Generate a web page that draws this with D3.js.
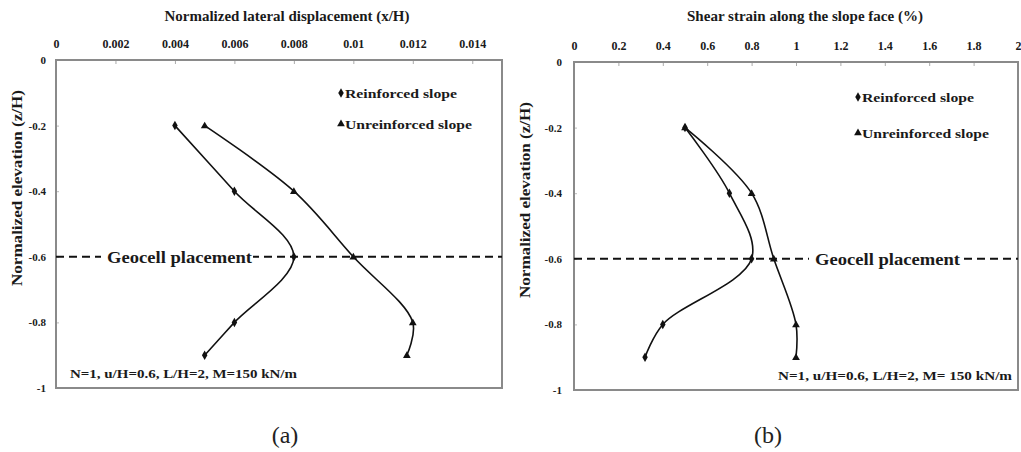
<!DOCTYPE html>
<html><head><meta charset="utf-8">
<script src="https://cdn.jsdelivr.net/npm/d3@7"></script>
<style>
html,body{margin:0;padding:0;background:#fff;}
svg text{font-family:"Liberation Serif","Times New Roman",serif;}
</style></head>
<body>
<svg id="c" width="1021" height="452"></svg>
<script>
// ---- data ----
const elevations = [-0.2, -0.4, -0.6, -0.8, -0.9];
const dispReinforced = [0.004, 0.006, 0.008, 0.006, 0.005];
const dispUnreinforced = [0.005, 0.008, 0.010, 0.012, 0.0118];
const strainReinforced = [0.5, 0.7, 0.8, 0.4, 0.32];
const strainUnreinforced = [0.5, 0.8, 0.9, 1.0, 1.0];
const xTicksA = [0, 0.002, 0.004, 0.006, 0.008, 0.01, 0.012, 0.014];
const xTickLabelsA = ["0", "0.002", "0.004", "0.006", "0.008", "0.01", "0.012", "0.014"];
const xTicksB = [0, 0.2, 0.4, 0.6, 0.8, 1, 1.2, 1.4, 1.6, 1.8, 2];
const xTickLabelsB = ["0", "0.2", "0.4", "0.6", "0.8", "1", "1.2", "1.4", "1.6", "1.8", "2"];
const yTicks = [0, -0.2, -0.4, -0.6, -0.8, -1];
const yTickLabels = ["0", "-0.2", "-0.4", "-0.6", "-0.8", "-1"];
const geocellLevel = -0.6;
const seriesNames = ["Reinforced slope", "Unreinforced slope"];
const paramText = "N=1, u/H=0.6, L/H=2, M=150 kN/m";
const paramTextB = "N=1, u/H=0.6, L/H=2, M= 150 kN/m";

const svg = d3.select("#c");

function panel(cfg) {
  const g = svg.append("g");
  const x = d3.scaleLinear().domain(cfg.xDomain).range([cfg.left, cfg.right]);
  const y = d3.scaleLinear().domain([0, -1]).range([cfg.top, cfg.bottom]);

  // top axis (ticks inside, labels above)
  const ax = g.append("g").attr("transform", `translate(0,${cfg.top})`)
    .call(d3.axisTop(x).tickValues(cfg.xTicks).tickFormat((d, i) => cfg.xLabels[i])
      .tickSizeInner(-4).tickSizeOuter(0).tickPadding(12));
  ax.select(".domain").remove();
  ax.selectAll(".tick line").attr("stroke", "#aaa");
  ax.selectAll(".tick text").attr("font-size", 12).attr("font-weight", "bold").attr("fill", "#1a1a1a")
    .attr("font-family", "Liberation Serif");

  const ay = g.append("g").attr("transform", `translate(${cfg.left},0)`)
    .call(d3.axisLeft(y).tickValues(yTicks).tickFormat((d, i) => yTickLabels[i])
      .tickSizeInner(-3).tickSizeOuter(0).tickPadding(cfg.yPad));
  ay.select(".domain").remove();
  ay.selectAll(".tick line").attr("stroke", "#bbb");
  ay.selectAll(".tick text").attr("font-size", 11).attr("font-weight", "bold").attr("fill", "#1a1a1a")
    .attr("font-family", "Liberation Serif");

  // border
  g.append("rect").attr("x", cfg.left).attr("y", cfg.top)
    .attr("width", cfg.right - cfg.left).attr("height", cfg.bottom - cfg.top)
    .attr("fill", "none").attr("stroke", "#8a8a8a").attr("stroke-width", 2);

  // titles
  g.append("text").attr("x", (cfg.titleX)).attr("y", 21).attr("text-anchor", "middle")
    .attr("font-size", 14).attr("font-weight", "bold").attr("fill", "#1a1a1a")
    .attr("textLength", cfg.titleW).attr("lengthAdjust", "spacingAndGlyphs").text(cfg.title);
  g.append("text").attr("transform", `translate(${cfg.yTitleX},${cfg.yTitleY}) rotate(-90)`)
    .attr("text-anchor", "middle").attr("font-size", 14).attr("font-weight", "bold").attr("fill", "#1a1a1a")
    .attr("textLength", 196).attr("lengthAdjust", "spacingAndGlyphs")
    .text("Normalized elevation (z/H)");

  // geocell dashed line
  const gy = y(geocellLevel);
  g.append("line").attr("x1", cfg.left).attr("x2", cfg.right).attr("y1", gy).attr("y2", gy)
    .attr("stroke", "#111").attr("stroke-width", 2).attr("stroke-dasharray", "8,5");
  g.append("rect").attr("x", cfg.geoX - 6).attr("y", gy - 10).attr("width", 152).attr("height", 20).attr("fill", "#fff");
  g.append("text").attr("x", cfg.geoX).attr("y", gy + 6).attr("font-size", 17.5).attr("font-weight", "bold")
    .attr("fill", "#1a1a1a").attr("textLength", 145).attr("lengthAdjust", "spacingAndGlyphs").text("Geocell placement");

  // series
  const line = d3.line().x(d => x(d[0])).y(d => y(d[1])).curve(d3.curveCatmullRom.alpha(0.5));
  const sR = cfg.reinf.map((v, i) => [v, elevations[i]]);
  const sU = cfg.unreinf.map((v, i) => [v, elevations[i]]);
  [sR, sU].forEach(s => g.append("path").attr("d", line(s)).attr("fill", "none")
    .attr("stroke", "#111").attr("stroke-width", 1.6));
  const diamond = d3.symbol().type(d3.symbolDiamond).size(26);
  const tri = d3.symbol().type(d3.symbolTriangle).size(26);
  g.selectAll(null).data(sR).join("path").attr("d", diamond)
    .attr("transform", d => `translate(${x(d[0])},${y(d[1])})`).attr("fill", "#111");
  g.selectAll(null).data(sU).join("path").attr("d", tri)
    .attr("transform", d => `translate(${x(d[0])},${y(d[1]) + 0.5})`).attr("fill", "#111");

  // legend
  cfg.legend.forEach((L, i) => {
    g.append("path").attr("d", i === 0 ? diamond : tri)
      .attr("transform", `translate(${L.x},${L.y})`).attr("fill", "#111");
    g.append("text").attr("x", L.x + 4).attr("y", L.y + 4.5).attr("font-size", 13).attr("font-weight", "bold")
      .attr("fill", "#1a1a1a").attr("textLength", L.w).attr("lengthAdjust", "spacingAndGlyphs").text(seriesNames[i]);
  });

  // parameters
  g.append("text").attr("x", cfg.paramX).attr("y", cfg.paramY).attr("font-size", 12.5).attr("font-weight", "bold")
    .attr("fill", "#1a1a1a").attr("textLength", cfg.paramW).attr("lengthAdjust", "spacingAndGlyphs").text(cfg.param);

  // caption
  g.append("text").attr("x", cfg.capX).attr("y", 443).attr("text-anchor", "middle")
    .attr("font-size", 24).attr("fill", "#222").text(cfg.caption);
}

panel({
  xDomain: [0, 0.015], left: 56, right: 502, top: 60, bottom: 388,
  xTicks: xTicksA, xLabels: xTickLabelsA, yPad: 10,
  title: "Normalized lateral displacement (x/H)", titleX: 287, titleW: 245,
  yTitleX: 22, yTitleY: 188,
  geoX: 107, reinf: dispReinforced, unreinf: dispUnreinforced,
  legend: [{x: 341, y: 93, w: 112}, {x: 341, y: 124, w: 127}],
  param: paramText, paramX: 70, paramY: 378, paramW: 227,
  capX: 285, caption: "(a)"
});
panel({
  xDomain: [0, 2], left: 574, right: 1018, top: 62, bottom: 390,
  xTicks: xTicksB, xLabels: xTickLabelsB, yPad: 12,
  title: "Shear strain along the slope face (%)", titleX: 805, titleW: 236,
  yTitleX: 530, yTitleY: 200,
  geoX: 815, reinf: strainReinforced, unreinf: strainUnreinforced,
  legend: [{x: 858, y: 97, w: 112}, {x: 858, y: 133, w: 127}],
  param: paramTextB, paramX: 778, paramY: 380, paramW: 234,
  capX: 768, caption: "(b)"
});
</script>
</body></html>
